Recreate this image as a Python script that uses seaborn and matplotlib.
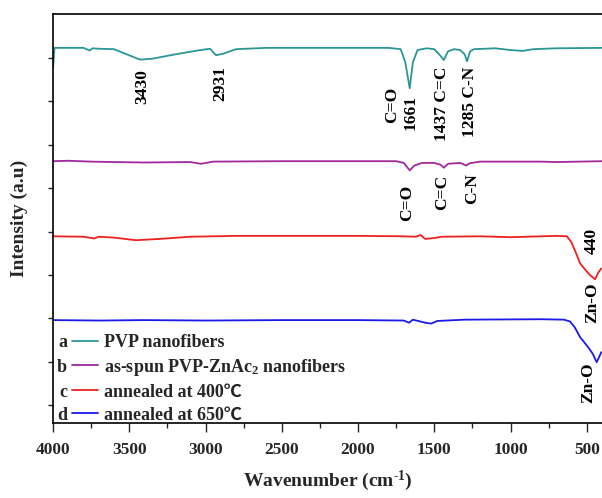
import numpy as np
import pandas as pd
import matplotlib
matplotlib.use("Agg")
import matplotlib.pyplot as plt
import seaborn as sns
from matplotlib.transforms import IdentityTransform

# ---------------- data ----------------
wn_a = [4000, 3990, 3800, 3760, 3740, 3700, 3600, 3530, 3430, 3350, 3200, 3050, 2970, 2931, 2880,
        2800, 2600, 1800, 1720, 1690, 1661, 1640, 1610, 1550, 1500, 1460, 1437, 1410, 1370, 1330,
        1300, 1285, 1265, 1240, 1100, 1000, 920, 850, 700, 400]
int_a = [7.75, 8.23, 8.23, 8.17, 8.22, 8.21, 8.20, 8.10, 7.96, 7.98, 8.08, 8.17, 8.21, 8.06, 8.10,
         8.20, 8.23, 8.23, 8.20, 7.90, 7.30, 7.90, 8.18, 8.22, 8.20, 8.05, 7.95, 8.15, 8.20, 8.18,
         8.08, 7.92, 8.15, 8.20, 8.22, 8.18, 8.16, 8.20, 8.22, 8.23]

wn_b = [4000, 3900, 3750, 3600, 3400, 3100, 3030, 2950, 2500, 1750, 1700, 1661, 1630, 1580, 1500,
        1460, 1437, 1410, 1330, 1290, 1270, 1200, 800, 700, 400]
int_b = [5.62, 5.63, 5.61, 5.60, 5.59, 5.60, 5.56, 5.61, 5.62, 5.62, 5.58, 5.41, 5.52, 5.58, 5.58,
         5.54, 5.47, 5.56, 5.58, 5.52, 5.57, 5.61, 5.61, 5.60, 5.62]

wn_c = [4000, 3800, 3730, 3700, 3600, 3456, 3300, 3100, 2800, 2000, 1700, 1620, 1590, 1560, 1500,
        1450, 1200, 1000, 800, 700, 630, 600, 570, 544, 510, 479, 446, 425, 405]
int_c = [3.89, 3.88, 3.84, 3.88, 3.86, 3.80, 3.83, 3.88, 3.90, 3.90, 3.89, 3.88, 3.92, 3.83, 3.85,
         3.88, 3.89, 3.87, 3.89, 3.90, 3.89, 3.75, 3.50, 3.27, 3.12, 3.00, 2.90, 3.05, 3.15]

wn_d = [4000, 3700, 3400, 3000, 2500, 2000, 1700, 1665, 1640, 1560, 1520, 1480, 1300, 800, 650,
        610, 580, 544, 492, 460, 435, 420, 405]
int_d = [1.96, 1.95, 1.96, 1.95, 1.96, 1.96, 1.95, 1.90, 1.97, 1.90, 1.88, 1.94, 1.97, 1.98, 1.97,
         1.93, 1.80, 1.57, 1.34, 1.18, 0.99, 1.10, 1.22]

series_letters = ["a", "b", "c", "d"]
series_labels = ["PVP nanofibers", r"as-spun PVP-ZnAc$_\mathbf{2}$ nanofibers",
                 "annealed at 400\u2103", "annealed at 650\u2103"]
series_colors = ["#2a9696", "#a0289b", "#f02020", "#1a1ae6"]

xticks = [4000, 3500, 3000, 2500, 2000, 1500, 1000, 500]

# peak annotations: (text, wavenumber, intensity)
ann_text = ["3430", "2931", "C=O", "1661", "1437 C=C", "1285 C-N",
            "C=O", "C=C", "C-N", "440", "Zn-O", "Zn-O"]
ann_wn = [3416, 2905, 1777, 1652, 1449, 1266, 1679, 1449, 1253, 466, 466, 488]
ann_y = [7.35, 7.42, 6.91, 6.73, 6.94, 6.98, 4.65, 4.91, 5.00, 3.78, 2.37, 0.51]

# ---------------- style ----------------
sns.set_style("ticks")
serif = ["Liberation Serif", "Noto Sans CJK SC", "DejaVu Sans"]
plt.rcParams["font.family"] = serif
plt.rcParams["font.weight"] = "bold"
plt.rcParams["mathtext.fontset"] = "custom"
plt.rcParams["mathtext.rm"] = "Liberation Serif:bold"
plt.rcParams["mathtext.bf"] = "Liberation Serif:bold"
plt.rcParams["mathtext.default"] = "bf"

fig = plt.figure(figsize=(6.02, 4.98), dpi=100)
ax = fig.add_axes([53 / 602, 75 / 498, 549 / 602, 409 / 498])

for wn, iv, lab, col in zip([wn_a, wn_b, wn_c, wn_d], [int_a, int_b, int_c, int_d],
                            series_labels, series_colors):
    df = pd.DataFrame({"wn": wn, "I": iv})
    sns.lineplot(data=df, x="wn", y="I", color=col, lw=1.3, ax=ax,
                 sort=False, estimator=None, label=lab)

ax.set_xlim(4000, 400)
ax.set_ylim(-0.41, 9.01)
ax.set_xticks(xticks)
ax.set_xticks(np.arange(3750, 400, -500), minor=True)
ax.set_yticks(np.arange(0, 9, 1))
ax.set_yticklabels([])
ax.tick_params(axis="x", which="major", direction="out", length=6.5, width=1, labelsize=12.5, pad=7)
ax.tick_params(axis="x", which="minor", direction="out", length=3.5, width=1)
ax.tick_params(axis="y", which="major", direction="out", length=3.5, width=1)
for lbl in ax.get_xticklabels():
    lbl.set_fontweight("bold")
for s in ["left", "top", "bottom"]:
    ax.spines[s].set_linewidth(1.2)
    ax.spines[s].set_color("black")
ax.spines["right"].set_visible(False)

ax.set_xlabel(r"Wavenumber (cm$^{\text{-}1}$)", fontsize=14, fontweight="bold", labelpad=8)
ax.set_ylabel("Intensity (a.u)", fontsize=14, fontweight="bold", labelpad=11)

for t, x, y in zip(ann_text, ann_wn, ann_y):
    ax.text(x, y, t, rotation=90, ha="center", va="center", fontsize=12.5,
            fontweight="bold", color="black")

leg = ax.legend(loc="upper left", bbox_to_anchor=(0.035, 0.218), frameon=False,
                handlelength=1.45, handletextpad=0.3, labelspacing=0.33,
                borderpad=0, borderaxespad=0,
                prop={"family": serif, "weight": "bold", "size": 13})
for h in leg.get_lines():
    h.set_linewidth(1.3)

fig.canvas.draw()
for letter, h, t in zip(series_letters, leg.get_lines(), leg.get_texts()):
    hb = h.get_window_extent()
    tx, ty = t.get_transform().transform(t.get_position())
    fig.text(hb.x0 - 5, ty, letter, transform=IdentityTransform(), ha="right", va="baseline",
             fontsize=13, fontweight="bold", family=serif)

fig.savefig("out.png", dpi=100)
